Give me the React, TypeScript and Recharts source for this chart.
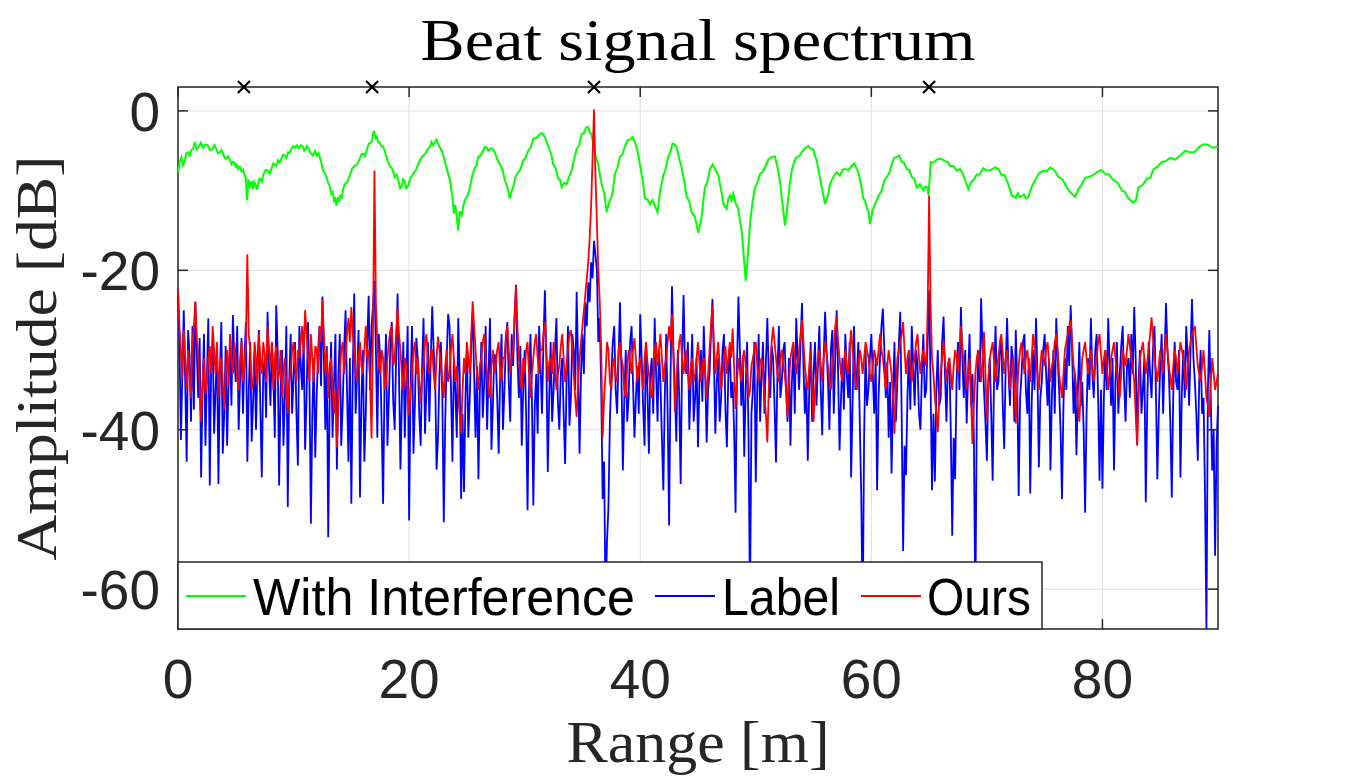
import React from 'react';
import {
  ComposedChart,
  Line,
  Scatter,
  XAxis,
  YAxis,
  CartesianGrid,
  ReferenceLine,
  ReferenceArea,
} from 'recharts';

// ---------------- data ----------------
const xTicks = [0, 20, 40, 60, 80];
const yTicks = [-60, -40, -20, 0];
const xDomain: [number, number] = [0, 90];
const yDomain: [number, number] = [-65, 3];

// Range bins (m) for Label / Ours spectra: one bin every 0.125 m from 0 to 90
const RANGE_STEP = 0.125;

// "Label" spectrum [dB], one value per range bin (40 bins = 5 m per row)
const labelDb = [
  -22.5, -29.0, -41.3, -33.0, -25.0, -34.0, -44.0, -27.5, -30.5, -39.0, -27.0, -37.5, -23.9, -30.0, -36.0, -28.5, -46.0, -35.0, -28.0, -42.0, -33.5, -26.0, -47.0, -31.5, -29.0, -40.5, -35.0, -30.0, -46.8, -33.0, -26.5, -43.0, -38.0, -29.5, -42.0, -34.0, -30.0, -37.0, -25.6, -31.0,
  -34.0, -27.0, -40.0, -33.5, -28.5, -38.0, -31.0, -26.5, -44.0, -35.0, -29.0, -41.5, -36.5, -30.5, -40.0, -32.0, -27.5, -37.0, -46.0, -33.0, -31.0, -38.5, -25.2, -32.0, -37.0, -29.0, -33.0, -41.0, -24.4, -30.0, -47.0, -35.5, -30.0, -42.0, -36.0, -27.0, -49.7, -34.0, -28.0, -38.0,
  -33.5, -29.0, -38.0, -44.5, -27.0, -32.0, -35.0, -28.5, -42.5, -36.0, -26.5, -34.0, -51.8, -38.0, -31.0, -43.5, -36.0, -30.0, -27.0, -34.5, -23.3, -31.0, -40.0, -29.5, -53.5, -36.0, -29.0, -41.0, -34.0, -28.0, -45.0, -33.5, -28.0, -42.0, -37.0, -30.0, -25.0, -35.0, -44.0, -31.0,
  -49.3, -33.0, -22.9, -38.0, -33.0, -27.5, -48.5, -36.0, -30.0, -44.0, -38.0, -29.0, -23.2, -35.0, -27.0, -24.5, -21.3, -30.0, -41.0, -28.0, -31.0, -39.5, -49.3, -34.0, -28.0, -42.0, -36.0, -29.5, -26.5, -36.5, -40.0, -31.0, -22.9, -33.0, -45.0, -36.0, -29.0, -41.0, -34.0, -27.0,
  -51.4, -35.0, -27.0, -43.0, -37.0, -28.5, -31.0, -38.0, -42.0, -32.0, -26.0, -40.5, -35.0, -29.0, -39.0, -31.0, -24.5, -30.0, -33.0, -45.0, -41.0, -33.0, -29.0, -36.0, -51.6, -39.0, -31.0, -25.5, -27.0, -35.0, -44.0, -31.0, -35.0, -41.0, -26.0, -33.0, -48.7, -38.0, -47.8, -36.0,
  -30.0, -41.0, -36.0, -29.0, -25.5, -33.0, -41.0, -32.0, -46.2, -35.0, -29.0, -38.5, -34.0, -27.0, -40.0, -33.0, -26.0, -42.5, -37.0, -30.5, -31.0, -36.0, -43.0, -33.5, -28.0, -40.0, -35.0, -29.0, -26.5, -34.0, -39.0, -28.0, -32.0, -26.0, -21.8, -31.0, -36.0, -29.5, -42.0, -35.0,
  -30.0, -38.0, -50.1, -35.0, -28.0, -36.0, -49.5, -37.0, -33.0, -40.5, -27.0, -32.0, -38.0, -29.0, -22.5, -31.0, -45.3, -36.0, -29.0, -39.0, -35.0, -30.0, -26.0, -36.5, -40.0, -33.0, -31.0, -38.0, -44.3, -34.0, -27.0, -39.5, -36.0, -28.0, -30.0, -35.0, -22.7, -32.0, -43.0, -33.0,
  -28.0, -33.0, -24.0, -27.0, -21.5, -24.0, -19.0, -21.0, -16.3, -18.0, -20.0, -29.0, -26.0, -35.0, -48.7, -44.0, -62.0, -54.0, -49.7, -39.0, -33.0, -29.0, -27.0, -35.0, -38.0, -31.0, -24.0, -33.0, -45.1, -36.0, -30.0, -39.0, -36.0, -29.0, -27.0, -34.0, -41.0, -36.0, -32.0, -38.0,
  -25.5, -31.0, -37.0, -42.0, -29.0, -35.0, -43.0, -33.0, -31.0, -38.0, -26.0, -33.0, -39.0, -30.0, -34.0, -41.0, -47.6, -36.0, -28.0, -38.0, -52.0, -33.0, -22.0, -30.0, -35.0, -41.5, -30.0, -36.0, -46.8, -31.0, -23.1, -32.0, -33.0, -29.0, -40.0, -34.0, -28.0, -39.0, -36.0, -31.0,
  -42.2, -34.0, -30.0, -36.5, -27.0, -33.0, -41.6, -35.0, -33.0, -28.0, -23.6, -31.0, -40.5, -34.0, -31.0, -39.0, -36.0, -30.0, -28.0, -37.5, -42.2, -33.0, -30.0, -36.0, -34.0, -40.0, -50.4, -32.0, -23.3, -30.0, -37.0, -31.0, -43.4, -35.0, -29.0, -41.0, -62.0, -38.0, -35.0, -29.0,
  -46.6, -35.0, -28.0, -39.0, -33.0, -29.0, -38.0, -31.5, -26.0, -33.0, -36.0, -29.5, -31.0, -37.0, -44.1, -33.0, -27.0, -36.0, -34.0, -30.0, -29.0, -35.0, -39.0, -31.0, -42.0, -34.0, -30.0, -38.0, -26.0, -31.0, -35.0, -29.0, -24.1, -32.0, -38.0, -34.0, -43.9, -35.0, -29.0, -39.0,
  -33.0, -29.0, -37.0, -32.0, -27.0, -35.0, -40.7, -31.0, -25.2, -30.0, -34.0, -40.0, -30.0, -27.5, -38.0, -31.0, -25.0, -33.0, -42.6, -36.0, -31.0, -37.5, -28.0, -33.0, -36.0, -29.0, -46.0, -37.0, -27.0, -35.0, -33.0, -29.0, -39.0, -48.0, -64.0, -41.0, -30.0, -37.0, -35.0, -31.0,
  -28.0, -33.0, -38.0, -31.0, -47.6, -36.0, -31.0, -27.0, -24.8, -30.0, -36.0, -31.5, -41.0, -34.0, -45.5, -36.0, -29.0, -39.0, -34.0, -29.5, -25.2, -38.0, -55.2, -42.0, -45.7, -36.0, -30.0, -37.5, -27.0, -32.0, -37.0, -30.0, -32.0, -38.0, -40.0, -33.0, -28.0, -36.0, -35.0, -29.0,
  -22.5, -34.0, -47.6, -38.0, -46.5, -35.0, -30.0, -37.0, -36.0, -29.0, -25.8, -33.0, -39.0, -32.0, -31.0, -40.0, -53.3, -41.0, -46.2, -34.0, -29.0, -35.0, -24.6, -31.0, -36.0, -30.0, -39.2, -33.0, -28.0, -37.0, -33.0, -41.0, -63.0, -38.0, -30.0, -34.0, -23.5, -30.0, -35.0, -39.0,
  -43.9, -34.0, -31.0, -38.0, -46.4, -33.0, -27.0, -35.0, -34.0, -30.0, -29.0, -37.0, -42.4, -32.0, -26.0, -33.0, -37.0, -29.5, -31.0, -39.0, -27.5, -34.0, -48.3, -36.0, -33.0, -29.0, -28.0, -35.0, -38.0, -31.0, -48.0, -37.0, -30.0, -35.0, -26.0, -33.0, -44.7, -36.0, -34.0, -30.0,
  -28.0, -33.0, -37.0, -31.0, -45.1, -36.0, -30.0, -38.0, -26.0, -31.0, -35.0, -40.0, -48.7, -37.0, -31.0, -35.0, -27.0, -32.0, -24.4, -30.0, -38.0, -33.0, -43.2, -35.0, -29.0, -37.0, -34.0, -40.0, -50.4, -38.0, -31.0, -35.0, -26.0, -33.0, -36.0, -30.0, -28.0, -36.0, -46.4, -35.0,
  -47.4, -36.0, -30.0, -35.0, -26.0, -32.0, -37.0, -31.0, -45.1, -34.0, -29.0, -38.0, -33.0, -29.5, -27.0, -34.0, -39.0, -32.0, -31.0, -36.0, -28.0, -33.0, -24.6, -31.0, -41.8, -34.0, -30.0, -38.0, -35.0, -31.0, -49.1, -37.0, -29.0, -33.0, -36.0, -30.0, -27.0, -35.0, -46.2, -38.0,
  -32.0, -28.0, -38.0, -31.0, -24.1, -30.0, -33.0, -39.0, -48.5, -36.0, -29.0, -34.0, -35.0, -30.0, -46.0, -35.0, -30.0, -36.0, -27.0, -31.0, -37.0, -30.0, -23.6, -31.0, -34.0, -38.0, -43.9, -34.0, -30.0, -38.0, -36.0, -48.0, -65.0, -35.0, -27.5, -36.0, -45.1, -40.0, -55.8, -42.0,
  -37.0,
];

// "Ours" spectrum [dB], one value per range bin (40 bins = 5 m per row)
const oursDb = [
  -22.5, -27.0, -30.0, -33.5, -27.5, -31.0, -35.0, -30.0, -33.0, -36.0, -29.0, -27.0, -24.0, -28.5, -31.0, -35.0, -39.0, -34.0, -31.0, -35.5, -34.0, -31.0, -29.5, -33.0, -27.0, -30.0, -33.0, -29.0, -36.0, -32.0, -31.0, -34.0, -37.4, -33.0, -30.0, -34.5, -28.0, -31.0, -33.0, -29.0,
  -31.0, -33.5, -35.0, -31.0, -29.0, -34.0, -32.0, -29.0, -18.0, -28.0, -30.0, -35.0, -34.0, -29.0, -31.0, -34.5, -28.0, -31.0, -33.0, -29.0, -30.5, -34.0, -27.0, -30.0, -32.0, -29.0, -35.0, -31.0, -29.5, -34.0, -33.0, -30.0, -36.0, -32.5, -31.0, -35.0, -38.0, -34.0, -33.0, -30.0,
  -29.0, -32.0, -34.0, -30.0, -31.0, -29.0, -27.0, -30.5, -25.0, -28.0, -31.0, -34.0, -28.0, -31.0, -34.0, -29.5, -30.0, -33.0, -27.0, -29.0, -23.7, -28.0, -33.0, -30.0, -36.0, -32.0, -31.0, -35.0, -38.0, -35.0, -42.2, -37.0, -33.0, -30.0, -29.0, -33.0, -31.0, -28.0, -26.0, -29.0,
  -24.6, -28.0, -30.0, -33.0, -34.0, -30.5, -29.0, -32.0, -33.0, -30.0, -27.0, -31.0, -30.0, -34.0, -41.1, -28.0, -7.5, -24.0, -29.0, -32.0, -33.0, -30.0, -31.0, -35.0, -34.2, -31.0, -29.0, -27.5, -27.0, -32.0, -31.0, -28.0, -24.6, -28.0, -30.0, -33.0, -35.0, -31.0, -32.0, -35.0,
  -38.2, -35.0, -33.0, -30.0, -29.0, -33.0, -31.0, -34.0, -36.7, -33.0, -32.0, -29.0, -28.0, -31.5, -33.0, -30.0, -30.0, -33.0, -35.0, -31.0, -28.3, -30.0, -32.0, -34.0, -36.0, -32.0, -30.0, -34.0, -33.0, -30.0, -28.0, -31.0, -34.0, -32.0, -36.0, -38.0, -40.5, -35.0, -31.0, -33.0,
  -29.0, -31.0, -33.0, -28.0, -23.9, -27.0, -30.0, -33.0, -35.0, -32.0, -31.0, -29.0, -28.0, -31.0, -33.0, -35.0, -36.0, -32.0, -30.0, -33.0, -32.0, -30.0, -29.0, -32.5, -34.0, -31.0, -31.0, -28.0, -27.0, -30.0, -33.0, -31.0, -30.0, -26.0, -22.0, -27.0, -31.0, -34.0, -35.0, -31.0,
  -33.0, -30.0, -29.0, -33.0, -36.0, -33.0, -31.0, -29.0, -28.0, -31.0, -33.0, -30.0, -30.0, -28.0, -26.5, -30.0, -34.0, -31.5, -31.0, -33.0, -29.0, -32.0, -35.0, -33.0, -32.0, -29.5, -28.0, -31.0, -34.0, -32.0, -30.0, -28.0, -27.5, -30.0, -33.0, -36.0, -38.4, -34.0, -31.0, -29.0,
  -27.0, -25.0, -23.0, -21.0, -19.0, -16.0, -12.0, -6.0, 0.2, -8.0, -14.0, -20.0, -24.0, -30.0, -40.9, -36.0, -33.0, -29.0, -30.0, -34.0, -35.0, -32.0, -31.0, -33.5, -34.0, -30.0, -29.0, -31.0, -32.0, -35.0, -36.0, -32.0, -30.0, -31.5, -33.0, -30.0, -28.5, -31.0, -34.0, -32.0,
  -31.0, -33.0, -35.0, -31.0, -29.0, -31.5, -33.0, -35.0, -36.0, -33.0, -30.0, -29.0, -32.0, -30.0, -28.0, -31.0, -34.0, -32.0, -31.0, -29.0, -27.0, -29.0, -25.5, -31.0, -37.8, -34.0, -31.0, -29.0, -28.0, -31.0, -33.0, -31.0, -30.0, -33.0, -35.0, -32.0, -31.0, -34.0, -33.0, -31.0,
  -29.0, -31.5, -34.0, -32.0, -31.0, -33.0, -36.0, -33.0, -30.0, -27.0, -24.4, -29.0, -33.0, -31.0, -29.0, -32.0, -35.0, -33.0, -31.0, -29.5, -33.0, -31.0, -29.0, -31.0, -27.3, -32.0, -37.4, -34.0, -31.0, -32.5, -34.0, -31.0, -30.0, -32.0, -33.0, -36.0, -35.0, -32.0, -31.0, -30.0,
  -29.0, -32.0, -34.0, -31.5, -31.0, -33.0, -36.0, -38.0, -41.6, -35.0, -32.0, -29.0, -27.1, -29.0, -31.0, -33.0, -34.0, -31.0, -30.0, -32.0, -33.0, -35.0, -38.4, -34.0, -31.0, -30.0, -29.0, -31.0, -33.0, -31.5, -30.0, -28.0, -26.2, -29.0, -32.0, -34.0, -35.0, -32.0, -30.0, -35.0,
  -39.0, -35.0, -33.0, -31.0, -30.0, -32.0, -34.0, -31.0, -29.0, -30.5, -32.0, -34.0, -35.0, -32.0, -30.0, -27.0, -25.8, -29.0, -31.0, -33.0, -34.0, -31.5, -30.0, -32.0, -33.0, -30.0, -27.5, -30.0, -32.0, -34.0, -35.0, -32.0, -30.0, -31.0, -33.0, -31.0, -29.0, -30.0, -31.0, -33.0,
  -34.0, -32.0, -30.0, -31.0, -32.0, -30.0, -28.0, -30.0, -31.0, -33.0, -35.0, -32.0, -30.0, -31.5, -33.0, -36.0, -40.5, -35.0, -31.0, -30.0, -29.0, -28.0, -26.5, -30.0, -33.0, -31.0, -30.0, -32.0, -34.0, -32.0, -31.0, -29.0, -28.0, -31.0, -33.0, -31.0, -30.0, -31.0, -32.0, -25.0,
  -10.6, -24.0, -31.0, -33.0, -36.0, -38.0, -40.3, -36.0, -33.0, -31.0, -29.0, -31.5, -34.0, -32.0, -31.0, -33.0, -35.0, -32.0, -30.0, -31.0, -33.0, -30.0, -27.0, -29.5, -32.0, -33.0, -35.0, -33.0, -31.0, -36.0, -41.8, -37.0, -33.0, -31.0, -30.0, -32.0, -34.0, -31.0, -27.7, -33.0,
  -38.8, -34.0, -31.0, -30.0, -29.0, -31.5, -34.0, -32.0, -31.0, -29.0, -28.0, -30.5, -33.0, -31.0, -30.0, -32.0, -35.0, -33.0, -31.0, -35.0, -39.2, -35.0, -32.0, -30.0, -29.0, -31.0, -33.0, -31.0, -30.0, -32.0, -34.0, -31.0, -28.0, -29.5, -31.0, -33.0, -35.0, -32.0, -30.0, -31.0,
  -32.0, -30.0, -29.0, -31.5, -34.0, -32.0, -31.0, -29.0, -28.0, -30.0, -33.0, -34.5, -36.0, -33.0, -30.0, -29.0, -28.0, -27.0, -26.2, -29.0, -32.0, -33.0, -35.0, -37.0, -39.0, -35.0, -31.0, -30.0, -29.0, -31.0, -33.0, -31.5, -30.0, -32.0, -34.0, -32.0, -31.0, -29.0, -28.0, -30.5,
  -33.0, -31.0, -30.0, -32.0, -35.0, -33.0, -31.0, -30.0, -29.0, -31.0, -33.0, -34.0, -36.0, -33.0, -30.0, -31.0, -32.0, -30.0, -28.0, -29.5, -31.0, -32.0, -34.0, -38.0, -42.0, -36.0, -31.0, -30.0, -29.0, -31.0, -33.0, -31.5, -30.0, -28.0, -25.9, -28.5, -31.0, -32.5, -34.0, -32.0,
  -30.0, -31.5, -33.0, -30.0, -28.0, -30.0, -32.0, -33.5, -35.0, -32.0, -30.0, -31.0, -33.0, -31.0, -29.0, -30.0, -31.0, -33.0, -35.0, -32.0, -30.0, -29.0, -28.0, -27.5, -27.0, -29.5, -32.0, -33.0, -34.0, -32.0, -30.0, -33.0, -36.0, -37.0, -38.4, -34.0, -31.0, -33.0, -35.0, -34.0,
  -33.0,
];

// "With Interference" spectrum: [range m, amplitude dB]
const interfPoints: [number, number][] = [
  [0.0, -7.7], [0.15, -6.4], [0.29, -5.8], [0.44, -6.8], [0.58, -6.3], [0.72, -5.3], [0.87, -5.2], [1.01, -5.6], [1.16, -4.9], [1.3, -4.8],
  [1.45, -3.9], [1.62, -4.8], [1.8, -4.5], [1.98, -4.0], [2.16, -4.6], [2.35, -4.2], [2.55, -4.3], [2.78, -4.9], [3.0, -4.8], [3.15, -4.3],
  [3.3, -4.7], [3.45, -5.3], [3.61, -5.2], [3.75, -4.9], [3.9, -5.4], [4.05, -5.9], [4.19, -6.0], [4.35, -5.7], [4.5, -6.1], [4.63, -6.7],
  [4.76, -6.4], [4.88, -6.5], [5.0, -7.0], [5.1, -6.8], [5.19, -7.3], [5.35, -7.0], [5.5, -7.6], [5.64, -7.4], [5.77, -8.1], [5.87, -8.4],
  [5.97, -11.2], [6.1, -8.6], [6.21, -9.6], [6.36, -8.8], [6.5, -9.8], [6.6, -8.9], [6.7, -9.2], [6.82, -9.9], [6.93, -9.2], [7.04, -8.5],
  [7.15, -8.6], [7.26, -8.9], [7.36, -8.1], [7.58, -7.4], [7.79, -7.5], [7.95, -7.9], [8.1, -7.2], [8.24, -6.6], [8.37, -6.7], [8.51, -6.9],
  [8.65, -6.2], [8.8, -6.5], [8.95, -6.0], [9.1, -5.5], [9.25, -5.6], [9.38, -5.9], [9.52, -5.2], [9.66, -5.3], [9.8, -4.8], [9.95, -4.4],
  [10.1, -4.6], [10.28, -4.3], [10.45, -4.7], [10.64, -4.3], [10.82, -4.5], [10.93, -5.0], [11.05, -4.8], [11.15, -4.4], [11.26, -4.6], [11.48, -5.3],
  [11.69, -5.6], [11.85, -5.0], [12.0, -5.6], [12.13, -5.3], [12.27, -5.8], [12.41, -6.5], [12.55, -7.5], [12.77, -8.0], [12.99, -9.0], [13.14, -9.5],
  [13.28, -10.4], [13.39, -10.2], [13.5, -11.2], [13.6, -10.8], [13.71, -11.9], [13.83, -11.0], [13.95, -11.3], [14.05, -10.5], [14.15, -11.0], [14.29, -9.8],
  [14.43, -9.2], [14.65, -8.9], [14.87, -8.1], [15.08, -7.2], [15.3, -6.9], [15.52, -6.7], [15.73, -6.0], [15.89, -5.4], [16.05, -5.4], [16.18, -5.7],
  [16.31, -5.0], [16.52, -4.1], [16.74, -3.9], [16.84, -3.3], [16.94, -2.5], [17.1, -3.4], [17.21, -3.2], [17.32, -3.9], [17.46, -4.0], [17.6, -4.4],
  [17.75, -4.5], [17.9, -5.0], [18.12, -6.2], [18.33, -6.9], [18.55, -7.3], [18.76, -8.3], [18.93, -8.0], [19.1, -8.9], [19.22, -9.7], [19.34, -9.6],
  [19.47, -8.6], [19.6, -8.8], [19.75, -9.7], [19.91, -9.4], [20.13, -8.4], [20.35, -7.9], [20.56, -7.5], [20.78, -6.7], [21.0, -6.0], [21.21, -5.6],
  [21.4, -5.4], [21.6, -4.8], [21.77, -4.6], [21.94, -3.9], [22.08, -4.3], [22.23, -3.9], [22.37, -3.6], [22.51, -4.1], [22.66, -4.6], [22.83, -5.0],
  [23.0, -5.8], [23.19, -6.9], [23.38, -7.9], [23.52, -8.6], [23.67, -10.0], [23.77, -11.0], [23.87, -12.9], [23.96, -11.8], [24.05, -12.4], [24.15, -13.6],
  [24.24, -15.0], [24.39, -12.6], [24.54, -13.1], [24.68, -12.0], [24.82, -11.2], [25.04, -10.7], [25.26, -9.6], [25.48, -8.0], [25.69, -7.1], [25.83, -6.9],
  [25.97, -5.8], [26.19, -5.6], [26.41, -5.0], [26.55, -4.5], [26.7, -4.6], [26.85, -5.0], [26.99, -4.8], [27.2, -4.7], [27.42, -5.2], [27.63, -6.1],
  [27.85, -6.7], [28.07, -7.3], [28.29, -8.7], [28.5, -9.6], [28.72, -11.0], [28.86, -10.1], [29.0, -9.6], [29.22, -8.2], [29.44, -7.7], [29.65, -7.3],
  [29.87, -6.2], [30.08, -5.9], [30.3, -5.0], [30.52, -4.6], [30.74, -3.5], [31.03, -3.4], [31.32, -2.9], [31.53, -2.8], [31.75, -3.3], [31.96, -4.1],
  [32.18, -5.0], [32.32, -5.5], [32.47, -6.7], [32.68, -7.2], [32.9, -8.5], [33.05, -8.6], [33.2, -9.6], [33.45, -9.0], [33.63, -9.2], [33.85, -8.2],
  [34.06, -7.5], [34.27, -6.1], [34.49, -4.8], [34.71, -4.3], [34.93, -2.9], [35.11, -2.8], [35.3, -2.1], [35.47, -2.0], [35.65, -2.7], [35.79, -3.0],
  [35.93, -4.1], [36.14, -5.7], [36.36, -6.7], [36.55, -8.4], [36.74, -9.6], [36.91, -10.5], [37.09, -12.7], [37.3, -11.5], [37.52, -10.8], [37.66, -9.8],
  [37.81, -7.9], [38.02, -7.2], [38.24, -5.8], [38.46, -5.5], [38.68, -4.4], [38.89, -3.7], [39.11, -3.6], [39.32, -3.3], [39.54, -3.9], [39.75, -4.9],
  [39.97, -6.7], [40.19, -8.5], [40.41, -11.0], [40.62, -11.1], [40.84, -11.7], [41.05, -11.2], [41.27, -11.9], [41.5, -12.7], [41.71, -10.2], [41.99, -8.1],
  [42.2, -7.3], [42.42, -5.8], [42.61, -5.1], [42.8, -4.1], [42.97, -4.2], [43.15, -4.6], [43.36, -5.9], [43.58, -7.1], [43.8, -8.7], [44.02, -10.8],
  [44.23, -11.3], [44.45, -12.7], [44.74, -13.3], [45.02, -15.3], [45.32, -13.3], [45.46, -11.2], [45.6, -9.6], [45.81, -8.9], [46.03, -7.3], [46.27, -6.7],
  [46.61, -7.7], [46.75, -8.0], [46.9, -9.2], [47.04, -10.2], [47.19, -11.7], [47.48, -12.3], [47.62, -11.0], [47.77, -10.6], [47.91, -11.2], [48.05, -10.4],
  [48.27, -11.6], [48.48, -12.3], [48.63, -13.8], [48.78, -15.0], [49.13, -21.3], [49.3, -18.4], [49.5, -14.2], [49.71, -11.5], [49.93, -9.6], [50.15, -9.0],
  [50.36, -7.9], [50.57, -7.7], [50.79, -7.1], [51.08, -6.1], [51.38, -5.8], [51.66, -5.7], [51.95, -7.5], [52.1, -8.9], [52.24, -10.8], [52.53, -14.4],
  [52.81, -11.0], [52.96, -9.0], [53.11, -7.5], [53.32, -6.4], [53.54, -5.8], [53.75, -5.7], [53.97, -5.2], [54.26, -4.7], [54.55, -4.4], [54.76, -4.7],
  [54.98, -4.8], [55.12, -5.6], [55.27, -6.2], [55.49, -7.9], [55.71, -9.6], [55.99, -11.7], [56.28, -10.4], [56.42, -9.2], [56.57, -8.7], [56.78, -8.1],
  [57.0, -7.7], [57.29, -8.1], [57.5, -7.4], [57.72, -7.3], [58.01, -7.4], [58.3, -6.9], [58.52, -6.6], [58.74, -7.3], [58.88, -7.7], [59.02, -8.7],
  [59.16, -9.6], [59.31, -11.0], [59.45, -11.2], [59.6, -12.1], [59.74, -12.6], [59.89, -14.2], [60.1, -12.5], [60.32, -11.7], [60.61, -10.7], [60.9, -10.0],
  [61.11, -8.8], [61.33, -8.3], [61.55, -7.8], [61.77, -6.7], [61.98, -5.9], [62.2, -5.8], [62.41, -5.6], [62.63, -6.4], [62.84, -6.5], [63.06, -7.3],
  [63.28, -7.4], [63.5, -8.3], [63.71, -8.5], [63.93, -9.6], [64.21, -9.2], [64.5, -10.0], [64.67, -9.5], [64.85, -9.6], [64.95, -10.6], [65.14, -6.4],
  [65.4, -6.5], [65.66, -6.1], [66.02, -6.0], [66.38, -6.3], [66.6, -6.4], [66.81, -6.9], [67.1, -6.9], [67.39, -7.5], [67.68, -7.3], [67.9, -7.8],
  [68.11, -8.7], [68.4, -9.8], [68.61, -9.0], [68.83, -8.7], [69.12, -8.0], [69.41, -7.9], [69.7, -7.2], [69.99, -7.5], [70.35, -7.4], [70.71, -7.1],
  [71.0, -7.3], [71.29, -8.1], [71.5, -8.0], [71.72, -8.7], [71.94, -9.6], [72.16, -10.6], [72.5, -10.9], [72.68, -10.3], [72.87, -10.8], [73.2, -10.5],
  [73.4, -11.0], [73.59, -10.8], [73.88, -9.5], [74.17, -8.7], [74.53, -7.8], [74.89, -7.5], [75.18, -7.6], [75.47, -7.1], [75.83, -7.4], [76.19, -8.3],
  [76.55, -8.6], [76.92, -9.6], [77.28, -10.3], [77.64, -10.8], [77.93, -9.8], [78.22, -9.2], [78.5, -8.4], [78.79, -8.3], [79.15, -8.1], [79.52, -7.7],
  [79.87, -7.4], [80.23, -7.9], [80.59, -8.0], [80.95, -8.7], [81.31, -9.0], [81.68, -10.0], [81.96, -10.2], [82.25, -11.0], [82.68, -11.5], [82.9, -11.2],
  [83.12, -9.6], [83.48, -9.3], [83.84, -8.5], [84.13, -8.4], [84.42, -7.3], [84.78, -7.0], [85.14, -6.4], [85.5, -6.3], [85.86, -5.9], [86.3, -6.1],
  [86.73, -5.6], [87.16, -5.0], [87.6, -5.2], [87.95, -5.2], [88.31, -4.6], [88.68, -4.2], [89.06, -4.2], [89.53, -4.6], [90.0, -4.5],
];

// detected targets (× markers drawn on the upper edge)
const targetRange = [5.7, 16.8, 36.0, 65.0];
const targetDb = [3, 3, 3, 3];

// ---------------- layout ----------------
const W = 1346;
const H = 784;
const PLOT_LEFT = 178;
const PLOT_TOP = 87;
const PLOT_RIGHT = 1218;
const PLOT_BOTTOM = 629;
const Y_AXIS_W = 170;
const X_AXIS_H = 60;

const AXIS_COLOR = '#262626';
const GRID_COLOR = '#dedede';
const SANS = '"Liberation Sans", Arial, Helvetica, sans-serif';
const SERIF = '"Liberation Serif", "DejaVu Serif", serif';

const labelData = labelDb.map((db, i) => ({ range: i * RANGE_STEP, db }));
const oursData = oursDb.map((db, i) => ({ range: i * RANGE_STEP, db }));
const interfData = interfPoints.map(([r, db]) => ({ range: r, db }));
const targetData = targetRange.map((r, i) => ({ range: r, db: targetDb[i] }));

// inward tick length: 10px expressed in data units
const plotW = PLOT_RIGHT - PLOT_LEFT;
const plotH = PLOT_BOTTOM - PLOT_TOP;
const tickDx = (10 * (xDomain[1] - xDomain[0])) / plotW;
const tickDy = (10 * (yDomain[1] - yDomain[0])) / plotH;

const XTick = (props: any) => {
  const { x, payload } = props;
  return (
    <text x={x} y={PLOT_BOTTOM + 69} textAnchor="middle" fontSize={55} fontFamily={SANS} fill={AXIS_COLOR}>
      {payload.value}
    </text>
  );
};

const YTick = (props: any) => {
  const { y, payload } = props;
  return (
    <text x={PLOT_LEFT - 18} y={y + 20} textAnchor="end" fontSize={55} fontFamily={SANS} fill={AXIS_COLOR}>
      {payload.value}
    </text>
  );
};

const XMark = (props: any) => {
  const { cx, cy } = props;
  const s = 6;
  return (
    <path
      d={`M${cx - s},${cy - s}L${cx + s},${cy + s}M${cx + s},${cy - s}L${cx - s},${cy + s}`}
      stroke="#000"
      strokeWidth={2.2}
      fill="none"
    />
  );
};

const legendItems = [
  { name: 'With Interference', color: '#00ff00', lineX: 186, textX: 253, textLen: 382 },
  { name: 'Label', color: '#0000ff', lineX: 655, textX: 722, textLen: 118 },
  { name: 'Ours', color: '#ff0000', lineX: 861, textX: 927, textLen: 104 },
];

export default function App() {
  return (
    <div style={{ position: 'absolute', left: 0, top: 0, width: W, height: H, background: '#fff' }}>
      <ComposedChart
        width={W}
        height={H}
        margin={{ top: PLOT_TOP, right: W - PLOT_RIGHT, bottom: H - PLOT_BOTTOM - X_AXIS_H, left: PLOT_LEFT - Y_AXIS_W }}
      >
        <CartesianGrid stroke={GRID_COLOR} strokeWidth={1} />
        <XAxis
          dataKey="range"
          type="number"
          domain={xDomain}
          ticks={xTicks}
          interval={0}
          height={X_AXIS_H}
          tickLine={false}
          axisLine={false}
          tick={<XTick />}
        />
        <YAxis
          type="number"
          domain={yDomain}
          ticks={yTicks}
          interval={0}
          width={Y_AXIS_W}
          tickLine={false}
          axisLine={false}
          tick={<YTick />}
        />
        <Line
          data={interfData}
          dataKey="db"
          type="linear"
          stroke="#00ff00"
          strokeWidth={2}
          dot={false}
          isAnimationActive={false}
        />
        <Line
          data={labelData}
          dataKey="db"
          type="linear"
          stroke="#0000ff"
          strokeWidth={1.8}
          dot={false}
          isAnimationActive={false}
        />
        <Line
          data={oursData}
          dataKey="db"
          type="linear"
          stroke="#ff0000"
          strokeWidth={1.8}
          dot={false}
          isAnimationActive={false}
        />
        <Scatter data={targetData} dataKey="db" shape={<XMark />} isAnimationActive={false} />
        {yTicks.map((t) => (
          <ReferenceLine
            key={`yl${t}`}
            segment={[{ x: xDomain[0], y: t }, { x: xDomain[0] + tickDx, y: t }]}
            stroke={AXIS_COLOR}
            strokeWidth={1.5}
          />
        ))}
        {yTicks.map((t) => (
          <ReferenceLine
            key={`yr${t}`}
            segment={[{ x: xDomain[1] - tickDx, y: t }, { x: xDomain[1], y: t }]}
            stroke={AXIS_COLOR}
            strokeWidth={1.5}
          />
        ))}
        {xTicks.map((t) => (
          <ReferenceLine
            key={`xb${t}`}
            segment={[{ x: t, y: yDomain[0] }, { x: t, y: yDomain[0] + tickDy }]}
            stroke={AXIS_COLOR}
            strokeWidth={1.5}
          />
        ))}
        {xTicks.map((t) => (
          <ReferenceLine
            key={`xt${t}`}
            segment={[{ x: t, y: yDomain[1] - tickDy }, { x: t, y: yDomain[1] }]}
            stroke={AXIS_COLOR}
            strokeWidth={1.5}
          />
        ))}
        <ReferenceArea
          x1={xDomain[0]}
          x2={xDomain[1]}
          y1={yDomain[0]}
          y2={yDomain[1]}
          fill="none"
          fillOpacity={0}
          stroke={AXIS_COLOR}
          strokeWidth={1.5}
        />
      </ComposedChart>
      <svg
        width={W}
        height={H}
        style={{ position: 'absolute', left: 0, top: 0, pointerEvents: 'none' }}
      >
        <text
          x={(PLOT_LEFT + PLOT_RIGHT) / 2}
          y={60}
          textAnchor="middle"
          fontSize={60}
          fontFamily={SERIF}
          fill="#000"
          textLength={555}
          lengthAdjust="spacingAndGlyphs"
        >
          Beat signal spectrum
        </text>
        <text
          x={(PLOT_LEFT + PLOT_RIGHT) / 2}
          y={762}
          textAnchor="middle"
          fontSize={60}
          fontFamily={SERIF}
          fill={AXIS_COLOR}
          textLength={263}
          lengthAdjust="spacingAndGlyphs"
        >
          Range [m]
        </text>
        <text
          transform={`translate(56, ${(PLOT_TOP + PLOT_BOTTOM) / 2}) rotate(-90)`}
          textAnchor="middle"
          fontSize={58}
          fontFamily={SERIF}
          fill={AXIS_COLOR}
          textLength={405}
          lengthAdjust="spacingAndGlyphs"
        >
          Amplitude [dB]
        </text>
        {/* legend */}
        <rect x={PLOT_LEFT} y={562} width={1042 - PLOT_LEFT} height={PLOT_BOTTOM - 562} fill="#fff" stroke={AXIS_COLOR} strokeWidth={1.5} />
        {legendItems.map((it) => (
          <g key={it.name}>
            <line x1={it.lineX} x2={it.lineX + 60} y1={596} y2={596} stroke={it.color} strokeWidth={2} />
            <text
              x={it.textX}
              y={615}
              fontSize={52}
              fontFamily={SANS}
              fill="#000"
              textLength={it.textLen}
              lengthAdjust="spacingAndGlyphs"
            >
              {it.name}
            </text>
          </g>
        ))}
      </svg>
    </div>
  );
}
